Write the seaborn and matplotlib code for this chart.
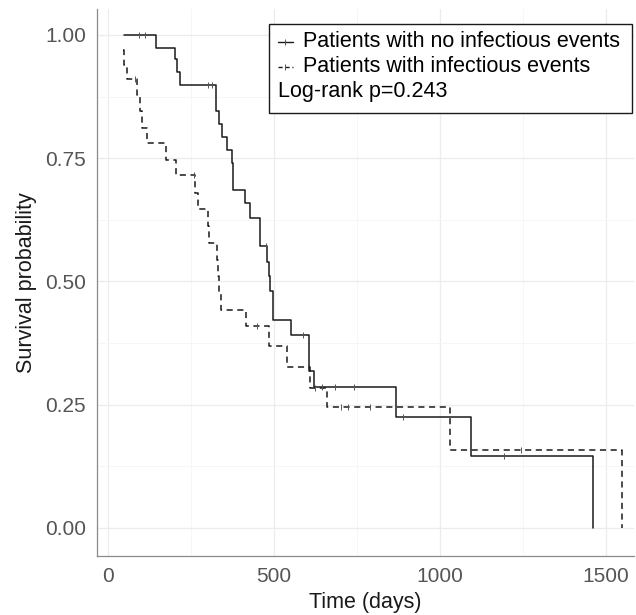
import numpy as np
import pandas as pd
import matplotlib
matplotlib.use('Agg')
import matplotlib.pyplot as plt
import seaborn as sns
from matplotlib.patches import Rectangle

# step points of the Kaplan-Meier curves (time in days, survival probability)
no_inf_time = [50, 146, 203, 208, 218, 327, 336, 345, 361, 376, 378, 413, 428, 459,
               481, 486, 489, 497, 552, 607, 621, 870, 1095, 1462]
no_inf_surv = [1.0, 0.974, 0.951, 0.924, 0.899, 0.846, 0.820, 0.793, 0.767, 0.741,
               0.685, 0.658, 0.629, 0.572, 0.540, 0.510, 0.481, 0.421, 0.391, 0.319,
               0.285, 0.224, 0.146, 0.0]
no_inf_censor = [94, 112, 301, 313, 476, 589, 647, 685, 742, 890, 1194]

inf_time = [45, 48, 59, 89, 97, 105, 120, 175, 207, 263, 273, 303, 306, 331, 334,
            337, 341, 416, 486, 539, 611, 660, 1030, 1549]
inf_surv = [0.97, 0.94, 0.911, 0.878, 0.845, 0.812, 0.780, 0.747, 0.715, 0.680,
            0.646, 0.612, 0.578, 0.544, 0.510, 0.476, 0.442, 0.409, 0.368, 0.326,
            0.284, 0.245, 0.158, 0.0]
inf_censor = [84, 261, 451, 625, 703, 725, 790, 1246]

labels = ['Patients with no infectious events', 'Patients with infectious events']
pvalue_text = 'Log-rank p=0.243'

df = pd.concat([
    pd.DataFrame({'time': no_inf_time, 'surv': no_inf_surv, 'group': labels[0]}),
    pd.DataFrame({'time': inf_time, 'surv': inf_surv, 'group': labels[1]}),
])

sns.set_style('white')
plt.rcParams['font.family'] = ['Liberation Sans', 'DejaVu Sans']

fig = plt.figure(figsize=(6.36, 6.15), dpi=100)
ax = fig.add_axes([0.1525, 0.0959, 0.844, 0.8895])

line_col = '#1a1a1a'
sns.lineplot(data=df, x='time', y='surv', style='group', style_order=labels,
             dashes={labels[0]: '', labels[1]: (4, 3)}, color=line_col,
             drawstyle='steps-post', estimator=None, sort=False, lw=1.1,
             legend=False, ax=ax)


def step_value(times, surv, t):
    idx = np.searchsorted(times, t, side='right') - 1
    return np.array(surv)[idx]


# censored observations as small ticks on the curves
for times, surv, cens in [(no_inf_time, no_inf_surv, no_inf_censor),
                          (inf_time, inf_surv, inf_censor)]:
    ax.plot(cens, step_value(times, surv, cens), ls='none', marker='|',
            markersize=5, mew=0.7, color='#555555', zorder=3)

ax.set_xlim(-32, 1585)
ax.set_ylim(-0.0575, 1.0527)
ax.set_xticks([0, 500, 1000, 1500])
ax.set_yticks([0, 0.25, 0.5, 0.75, 1.0])
ax.set_yticklabels(['0.00', '0.25', '0.50', '0.75', '1.00'])
ax.set_xticks([250, 750, 1250], minor=True)
ax.set_yticks([0.125, 0.375, 0.625, 0.875], minor=True)
ax.grid(True, which='major', color='#ececec', lw=0.9)
ax.grid(True, which='minor', color='#f5f5f5', lw=0.6)
ax.set_axisbelow(True)

for s in ['top', 'right']:
    ax.spines[s].set_visible(False)
for s in ['left', 'bottom']:
    ax.spines[s].set_color('#8a8a8a')
    ax.spines[s].set_linewidth(0.9)
ax.tick_params(which='major', length=4, width=0.8, color='#8a8a8a',
               labelsize=15, labelcolor='#555555', pad=4)
ax.tick_params(which='minor', length=0)

ax.set_xlabel('Time (days)', fontsize=15.5, color='#1a1a1a', labelpad=4)
ax.set_ylabel('Survival probability', fontsize=15.5, color='#1a1a1a', labelpad=6)

# legend box drawn by hand so the p-value line sits under the handles
ax.add_patch(Rectangle((0.3203, 0.8099), 0.676, 0.1627, transform=ax.transAxes,
                       facecolor='white', edgecolor='#1a1a1a', lw=1.0,
                       zorder=5, clip_on=False))
rows = [0.9402, 0.8945]
styles = ['-', (0, (3, 2))]
for y, lab, st in zip(rows, labels, styles):
    ax.plot([0.3371, 0.3650], [y, y], transform=ax.transAxes, color=line_col,
            lw=1.0, ls=st, zorder=6, clip_on=False)
    ax.plot([0.351], [y], transform=ax.transAxes, marker='|', markersize=4,
            mew=0.7, color='#555555', zorder=6, clip_on=False)
    ax.text(0.3836, y, lab, transform=ax.transAxes, fontsize=15.5,
            va='center', ha='left', color='black', zorder=6)
ax.text(0.3371, 0.8488, pvalue_text, transform=ax.transAxes, fontsize=15.5,
        va='center', ha='left', color='black', zorder=6)

fig.savefig('out.png', dpi=100)
